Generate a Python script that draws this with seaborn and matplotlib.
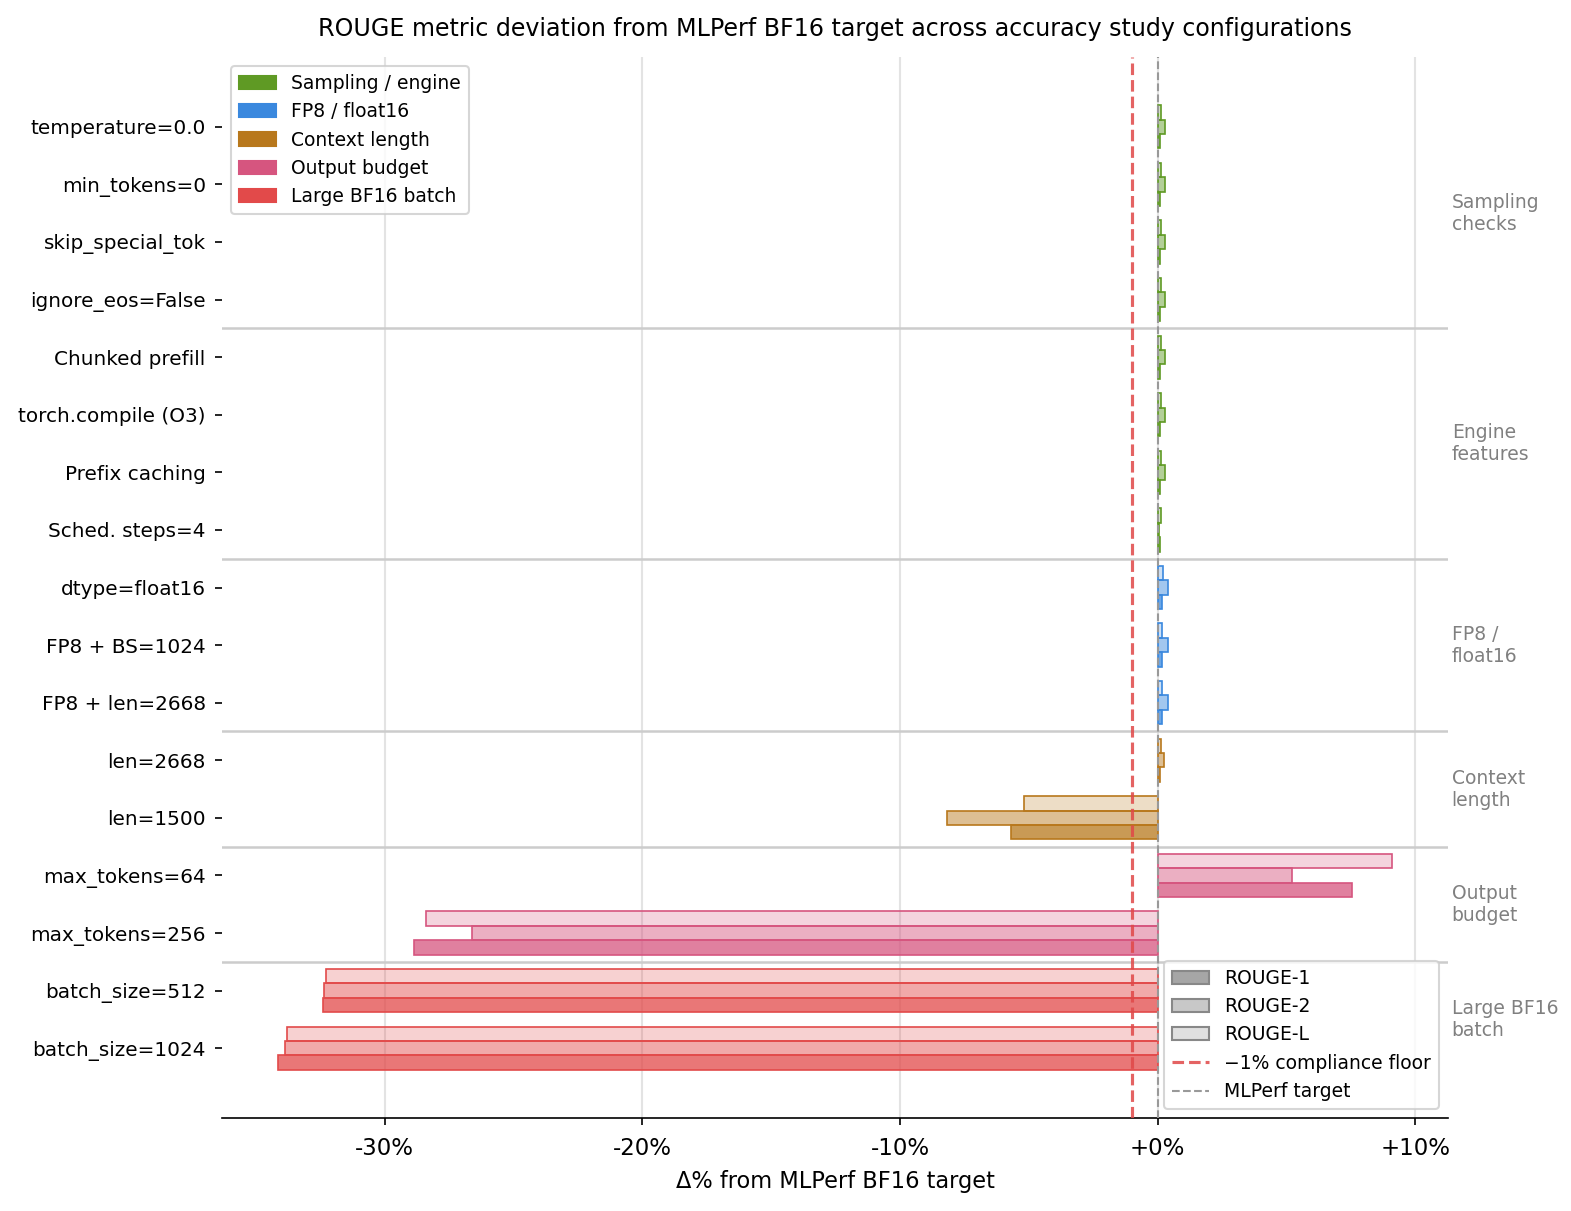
import matplotlib
matplotlib.use("Agg")
import matplotlib.pyplot as plt
import seaborn as sns
import pandas as pd
from matplotlib.patches import Patch
from matplotlib.lines import Line2D
from matplotlib.colors import to_rgba
from matplotlib.ticker import FuncFormatter

# ---------------- data ----------------
configs = [
    "temperature=0.0", "min_tokens=0", "skip_special_tok", "ignore_eos=False",
    "Chunked prefill", "torch.compile (O3)", "Prefix caching", "Sched. steps=4",
    "dtype=float16", "FP8 + BS=1024", "FP8 + len=2668",
    "len=2668", "len=1500",
    "max_tokens=64", "max_tokens=256",
    "batch_size=512", "batch_size=1024",
]
color_groups = (["Sampling / engine"] * 8 + ["FP8 / float16"] * 3 +
                ["Context length"] * 2 + ["Output budget"] * 2 +
                ["Large BF16 batch"] * 2)
rouge1 = [0.09, 0.09, 0.09, 0.09, 0.09, 0.09, 0.09, 0.08,
          0.17, 0.16, 0.16, 0.09, -5.69, 7.55, -28.86, -32.39, -34.15]
rouge2 = [0.28, 0.28, 0.28, 0.28, 0.28, 0.28, 0.28, 0.05,
          0.41, 0.40, 0.41, 0.26, -8.17, 5.22, -26.60, -32.35, -33.85]
rougeL = [0.13, 0.13, 0.13, 0.13, 0.13, 0.13, 0.13, 0.13,
          0.21, 0.16, 0.15, 0.13, -5.18, 9.10, -28.40, -32.27, -33.78]

sections = ["Sampling\nchecks", "Engine\nfeatures", "FP8 /\nfloat16",
            "Context\nlength", "Output\nbudget", "Large BF16\nbatch"]
section_sizes = [4, 4, 3, 2, 2, 2]

group_names = ["Sampling / engine", "FP8 / float16", "Context length",
               "Output budget", "Large BF16 batch"]
group_colors = ["#5f9a24", "#3a88de", "#b8781c", "#d6557f", "#e24a4a"]
metrics = ["ROUGE-1", "ROUGE-2", "ROUGE-L"]
metric_alpha = {"ROUGE-1": 0.75, "ROUGE-2": 0.47, "ROUGE-L": 0.25}
metric_legend_colors = {"ROUGE-1": "#a6a6a6", "ROUGE-2": "#c8c8c8", "ROUGE-L": "#e0e0e0"}

compliance_floor = -1.0
target = 0.0

# ---------------- frame ----------------
df = pd.DataFrame({"config": configs, "group": color_groups,
                   "ROUGE-1": rouge1, "ROUGE-2": rouge2, "ROUGE-L": rougeL})
long = df.melt(id_vars=["config", "group"], value_vars=metrics,
               var_name="metric", value_name="delta")

fig = plt.figure(figsize=(1571 / 150, 1211 / 150), dpi=150)
ax = fig.add_axes([222 / 1571, 1 - 1118 / 1211, (1448 - 222) / 1571, (1118 - 57) / 1211])

hue_order = ["ROUGE-L", "ROUGE-2", "ROUGE-1"]
for g, c in zip(group_names, group_colors):
    sub = long[long["group"] == g]
    n0 = len(ax.patches)
    sns.barplot(data=sub, x="delta", y="config", hue="metric", order=configs,
                hue_order=hue_order,
                palette={m: to_rgba(c, metric_alpha[m]) for m in hue_order},
                saturation=1, edgecolor=c, linewidth=0.8, errorbar=None,
                width=0.75, orient="h", legend=False, ax=ax, zorder=2)
    for p in ax.patches[n0:]:
        p.set_edgecolor(c)

n = len(configs)
pad = 0.05 * (n - 1 + 0.75)
ax.set_ylim(n - 1 + 0.375 + pad, -0.375 - pad)

# separators
b = -0.5
for s in section_sizes[:-1]:
    b += s
    ax.axhline(b, color="#cccccc", lw=1.2, zorder=3)

# section labels
start = 0
for lab, s in zip(sections, section_sizes):
    mid = start + (s - 1) / 2
    ax.text(1.003, mid, lab, transform=ax.get_yaxis_transform(),
            ha="left", va="center", fontsize=9, color="#808080")
    start += s

ax.axvline(compliance_floor, color="#e04848", ls="--", lw=1.5, alpha=0.85, zorder=4)
ax.axvline(target, color="#999999", ls="--", lw=1.0, zorder=4)

ax.xaxis.set_major_formatter(FuncFormatter(lambda v, _: f"{v:+.0f}%"))
ax.set_xticks([-30, -20, -10, 0, 10])
ax.grid(axis="x", color="#e3e3e3", lw=1.0)
ax.set_axisbelow(True)
for sp in ["top", "right", "left"]:
    ax.spines[sp].set_visible(False)
ax.tick_params(axis="x", labelsize=11, pad=5.5)
ax.tick_params(axis="y", labelsize=9.6, pad=4.3)
ax.set_ylabel("")
ax.set_xlabel("Δ% from MLPerf BF16 target", fontsize=10.8, labelpad=5)
ax.set_title("ROUGE metric deviation from MLPerf BF16 target across accuracy study configurations",
             fontsize=11.4, pad=10)

leg1 = ax.legend(handles=[Patch(facecolor=c, edgecolor=c, label=g)
                          for g, c in zip(group_names, group_colors)],
                 loc="upper left", fontsize=9)
ax.add_artist(leg1)
h2 = [Patch(facecolor=metric_legend_colors[m], edgecolor="#888888", label=m) for m in metrics]
h2 += [Line2D([0], [0], color="#e04848", ls="--", lw=1.5, alpha=0.85, label="−1% compliance floor"),
       Line2D([0], [0], color="#999999", ls="--", lw=1.0, label="MLPerf target")]
ax.legend(handles=h2, loc="lower right", fontsize=9)

fig.savefig("out.png", dpi=150)
